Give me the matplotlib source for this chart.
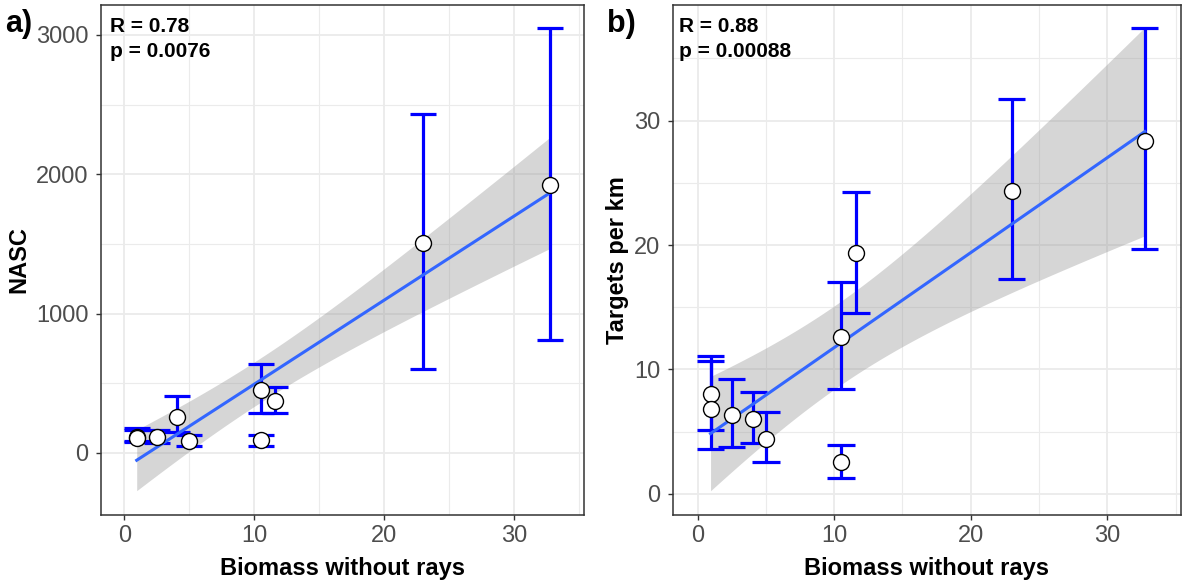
import numpy as np
import matplotlib.pyplot as plt

plt.rcParams['font.family'] = ['Liberation Sans', 'DejaVu Sans']

# --- DADOS ---
biomass = [0.95, 0.95, 2.5, 4.07, 5.0, 10.5, 10.5, 11.6, 23.0, 32.75]

nasc = [117, 110, 117, 261, 86, 452, 93, 375, 1510, 1924]
nasc_lo = [81, 84, 72, 150, 47, 287, 52, 287, 601, 811]
nasc_hi = [177, 163, 162, 411, 127, 639, 130, 472, 2434, 3049]

targets = [8.0, 6.83, 6.3, 6.03, 4.42, 12.65, 2.55, 19.4, 24.38, 28.38]
targets_lo = [5.1, 3.6, 3.75, 4.07, 2.6, 8.42, 1.31, 14.52, 17.26, 19.67]
targets_hi = [10.65, 11.05, 9.22, 8.22, 6.62, 17.07, 3.94, 24.3, 31.73, 37.48]

stats_a = ['R = 0.78', 'p = 0.0076']
stats_b = ['R = 0.88', 'p = 0.00088']

T_975_DF8 = 2.306  # quantil t de Student, 95%, n - 2 = 8
CAP_HALF = 1.0     # meia largura das barras de erro (unidades de x)

W, H = 1183, 586


def fit_band(x, y, grid):
    """Reta de mínimos quadrados com intervalo de confiança de 95% da média."""
    x = np.asarray(x, float)
    y = np.asarray(y, float)
    slope, intercept = np.polyfit(x, y, 1)
    fit = intercept + slope * grid
    resid = y - (intercept + slope * x)
    s = np.sqrt(np.sum(resid ** 2) / (len(x) - 2))
    se = s * np.sqrt(1 / len(x) + (grid - x.mean()) ** 2 / np.sum((x - x.mean()) ** 2))
    return fit, fit - T_975_DF8 * se, fit + T_975_DF8 * se


def draw_panel(ax, y, lo, hi, ylim, yticks, yminor, ylabel, ylabel_x, stats, stats_x):
    ax.set_xlim(-1.8, 35.4)
    ax.set_ylim(*ylim)
    ax.set_xticks([0, 10, 20, 30])
    ax.set_xticks([5, 15, 25, 35], minor=True)
    ax.set_yticks(yticks)
    ax.set_yticks(yminor, minor=True)
    ax.grid(which='major', color='#EBEBEB', lw=1.3, zorder=0)
    ax.grid(which='minor', color='#EBEBEB', lw=0.8, zorder=0)
    ax.set_axisbelow(True)

    for side in ax.spines.values():
        side.set_color('#333333')
        side.set_linewidth(1.1)
    ax.tick_params(which='major', length=3.5, width=1.0, color='#333333',
                   labelsize=17, labelcolor='#4D4D4D')
    ax.tick_params(axis='y', which='major', pad=5.5)
    ax.tick_params(axis='x', which='major', pad=4)
    ax.tick_params(which='minor', length=0)

    grid = np.linspace(min(biomass), max(biomass), 200)
    fit, band_lo, band_hi = fit_band(biomass, y, grid)
    ax.fill_between(grid, band_lo, band_hi, color='#999999', alpha=0.4, lw=0, zorder=2)

    ax.vlines(biomass, lo, hi, color='#0000FF', lw=2.3, zorder=3)
    xs = np.asarray(biomass)
    ax.hlines(lo, xs - CAP_HALF, xs + CAP_HALF, color='#0000FF', lw=2.3, zorder=3)
    ax.hlines(hi, xs - CAP_HALF, xs + CAP_HALF, color='#0000FF', lw=2.3, zorder=3)

    ax.plot(grid, fit, color='#3366FF', lw=2.2, zorder=4)
    ax.plot(biomass, y, 'o', ms=11.5, mfc='white', mec='black', mew=1.0, zorder=5)

    ax.set_xlabel('Biomass without rays', fontsize=17, fontweight='bold', va='center')
    ax.xaxis.set_label_coords(0.5, -0.104)
    ax.set_ylabel(ylabel, fontsize=17, fontweight='bold', va='center')
    ax.yaxis.set_label_coords(ylabel_x, 0.5)

    ax.text(stats_x, 0.958, stats[0], transform=ax.transAxes, fontsize=15,
            fontweight='bold', ha='left', va='center')
    ax.text(stats_x, 0.908, stats[1], transform=ax.transAxes, fontsize=15,
            fontweight='bold', ha='left', va='center')


fig = plt.figure(figsize=(W / 100, H / 100), dpi=100)
ax_a = fig.add_axes([101 / W, 1 - 515 / H, 483 / W, 510 / H])
ax_b = fig.add_axes([673 / W, 1 - 515 / H, 508 / W, 510 / H])

draw_panel(ax_a, nasc, nasc_lo, nasc_hi, (-445, 3215), [0, 1000, 2000, 3000],
           [500, 1500, 2500], 'NASC', -0.170, stats_a, 0.019)
draw_panel(ax_b, targets, targets_lo, targets_hi, (-1.7, 39.3), [0, 10, 20, 30],
           [5, 15, 25, 35], 'Targets per km', -0.109, stats_b, 0.012)

fig.text(5 / W, 1 - 24 / H, 'a)', fontsize=22, fontweight='bold', ha='left', va='center')
fig.text(607 / W, 1 - 24 / H, 'b)', fontsize=22, fontweight='bold', ha='left', va='center')

fig.savefig('out.png', dpi=100)
